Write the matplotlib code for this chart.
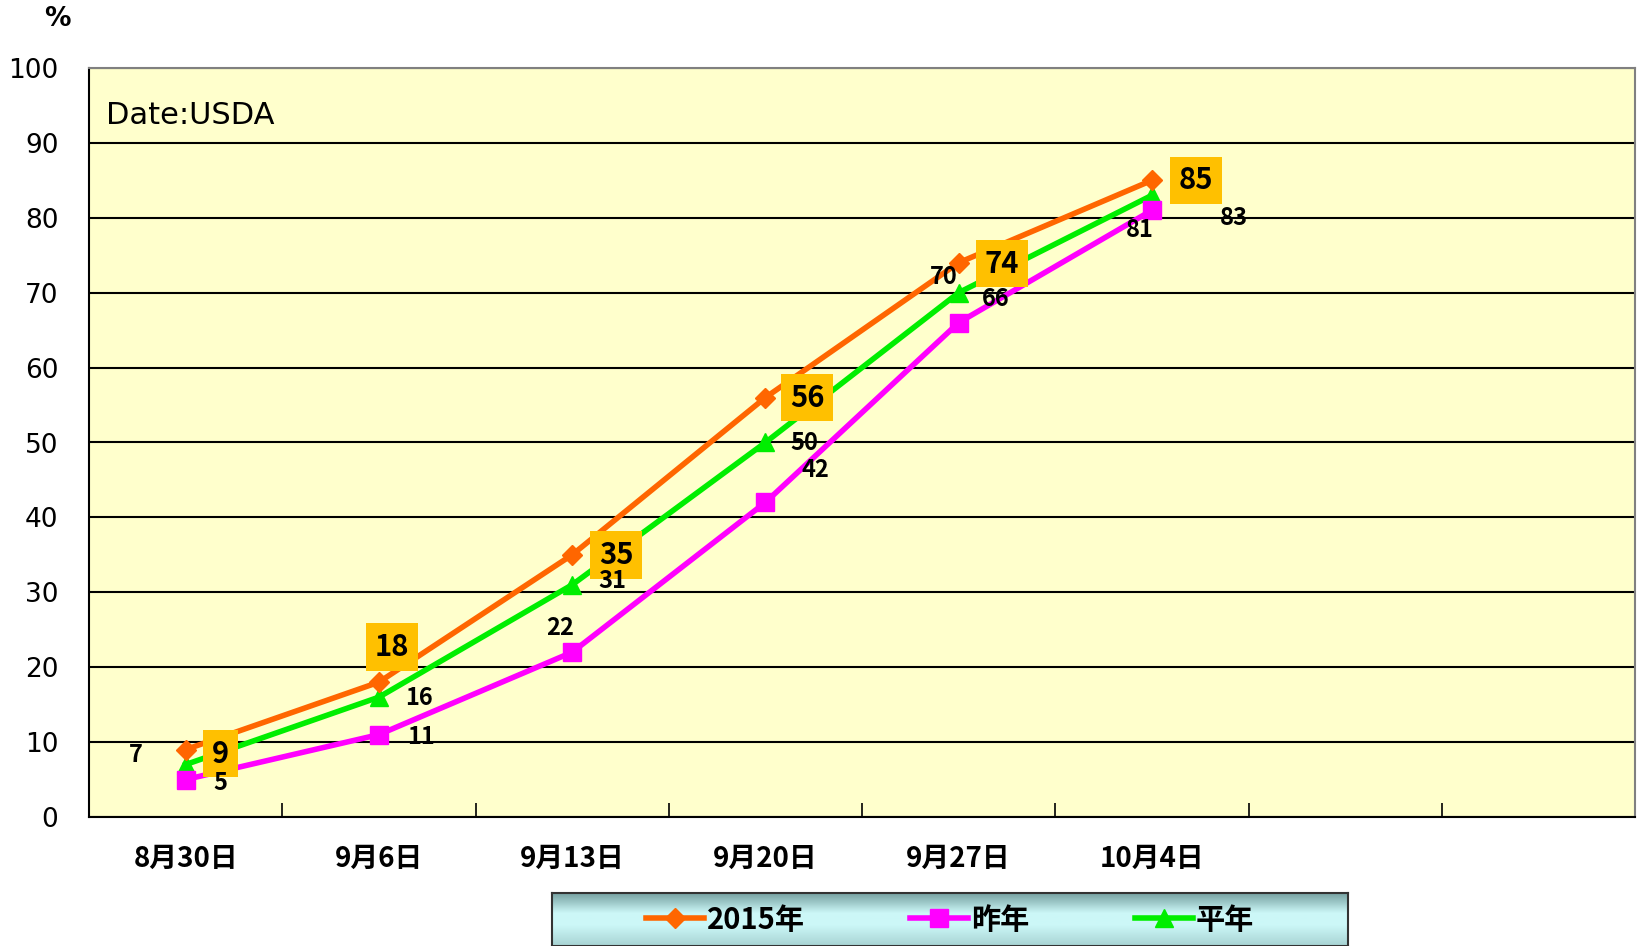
import matplotlib
matplotlib.use("Agg")
import matplotlib.pyplot as plt
import numpy as np
from matplotlib.lines import Line2D

plt.rcParams['font.family'] = ['Noto Sans CJK JP', 'DejaVu Sans']

categories = ["8月30日", "9月6日", "9月13日", "9月20日", "9月27日", "10月4日", "", ""]
series_names = ["2015年", "昨年", "平年"]
vals_2015 = [9, 18, 35, 56, 74, 85]
vals_last = [5, 11, 22, 42, 66, 81]
vals_avg = [7, 16, 31, 50, 70, 83]
yticks = list(range(0, 101, 10))

colors = ["#FF6600", "#FF00FF", "#00EE00"]
markers = ["D", "s", "^"]
msizes = [10, 13, 13]

# label offsets (pixels)
off_2015 = [(35, -4), (13, 35), (44, 0), (42, 0), (43, -1), (44, 0)]
off_last = [(35, -3), (42, -2), (-12, 24), (50, 32), (37, 24), (-12, -20)]
off_avg = [(-50, 10), (40, -1), (40, 4), (39, 0), (-15, 16), (82, -23)]

W, H = 1638, 946
fig = plt.figure(figsize=(W / 100, H / 100), dpi=100)
ax = fig.add_axes([89 / W, 1 - 817 / H, (1635 - 89) / W, (817 - 68) / H])
ax.set_facecolor("#FFFFCC")

x = np.arange(len(vals_2015))
ax.set_xlim(-0.5, len(categories) - 0.5)
ax.set_ylim(0, 100)
ax.set_yticks(yticks)
ax.set_yticklabels([str(v) for v in yticks], fontsize=19, family=['DejaVu Sans'])
ax.tick_params(axis='y', length=0, pad=22)
ax.set_xticks(np.arange(len(categories)))
ax.set_xticklabels(categories, fontsize=20, fontweight='bold')
ax.tick_params(axis='x', which='major', length=0, pad=20)
ax.set_xticks(np.arange(len(categories) + 1) - 0.5, minor=True)
ax.tick_params(axis='x', which='minor', direction='in', length=10, width=1.2, color='black')
ax.grid(axis='y', color='black', lw=1.5)
ax.set_axisbelow(True)
for s in ['top', 'right']:
    ax.spines[s].set_color('#808080')
    ax.spines[s].set_linewidth(1.5)
for s in ['left', 'bottom']:
    ax.spines[s].set_color('black')
    ax.spines[s].set_linewidth(1.5)

all_vals = [vals_2015, vals_last, vals_avg]
all_offs = [off_2015, off_last, off_avg]
order = [2, 1, 0]
for i in order:
    ax.plot(x, all_vals[i], color=colors[i], lw=4, marker=markers[i],
            ms=msizes[i], zorder=3 + (2 - i))

for i in range(3):
    for xi, v, (dx, dy) in zip(x, all_vals[i], all_offs[i]):
        if i == 0:
            ax.annotate(str(v), (xi, v), xytext=(dx, dy), textcoords='offset pixels',
                        ha='center', va='center', fontsize=21, fontweight='bold',
                        bbox=dict(boxstyle='square,pad=0.3', fc='#FFC000', ec='none'),
                        zorder=10)
        else:
            ax.annotate(str(v), (xi, v), xytext=(dx, dy), textcoords='offset pixels',
                        ha='center', va='center', fontsize=17, fontweight='bold',
                        zorder=10)

ax.text(0.011, 0.936, "Date:USDA", transform=ax.transAxes, fontsize=22,
        ha='left', va='center', family=['DejaVu Sans'])
fig.text(57 / W, 1 - 19 / H, "%", fontsize=19, fontweight='bold', ha='center',
         va='center', family=['DejaVu Sans'])

# legend box with gradient
lax = fig.add_axes([552 / W, 0, (1348 - 552) / W, 53 / H])
grad = np.concatenate([np.linspace(0, 1, 20), np.ones(10), np.linspace(1, 0.6, 20)])
c1 = np.array([0.45, 0.62, 0.62])
c2 = np.array([0.80, 0.97, 0.97])
img = (c1[None, :] * (1 - grad[:, None]) + c2[None, :] * grad[:, None])[:, None, :]
lax.imshow(img, aspect='auto', extent=[0, 1, 0, 1], origin='upper')
lax.set_xlim(0, 1)
lax.set_ylim(0, 1)
lax.set_xticks([])
lax.set_yticks([])
for s in lax.spines.values():
    s.set_color('#333333')
    s.set_linewidth(1.5)
handles = [Line2D([], [], color=colors[i], lw=4, marker=markers[i], ms=msizes[i])
           for i in range(3)]
lax.legend(handles, series_names, ncol=3, loc='center', frameon=False,
           handlelength=2.0, handletextpad=0.1, columnspacing=3.6,
           prop={'weight': 'bold', 'size': 21}, bbox_to_anchor=(0.5, 0.5))

fig.savefig("out.png", dpi=100)
